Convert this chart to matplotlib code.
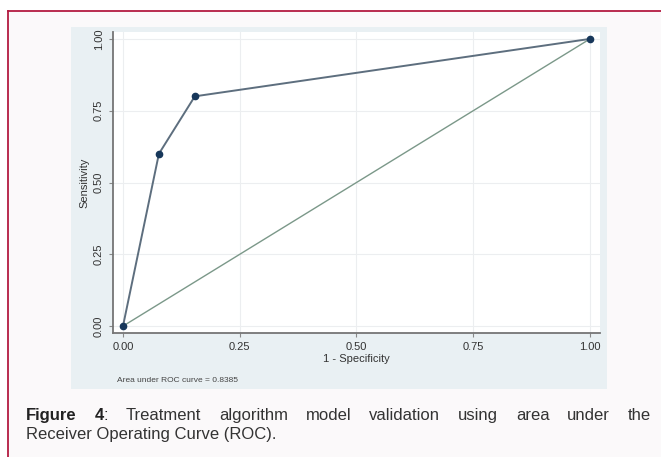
import numpy as np
import matplotlib
matplotlib.use("Agg")
import matplotlib.pyplot as plt
from matplotlib.patches import Rectangle
from matplotlib.lines import Line2D

plt.rcParams["font.family"] = ["Liberation Sans", "DejaVu Sans"]

# ROC points
fpr = [0.0, 0.0769, 0.1538, 1.0]
tpr = [0.0, 0.60, 0.80, 1.0]
ticks = [0.0, 0.25, 0.5, 0.75, 1.0]
tick_labels = ["0.00", "0.25", "0.50", "0.75", "1.00"]
auc_text = "Area under ROC curve = 0.8385"
caption_words = ["Treatment", "algorithm", "model", "validation", "using", "area", "under", "the"]
caption_line2 = "Receiver Operating Curve (ROC)."

W, H = 661, 457
fig = plt.figure(figsize=(W / 100, H / 100), dpi=100)
fig.patch.set_facecolor("white")

def px(x, y):
    return x / W, 1 - y / H

# outer frame (crimson, cut off on right and bottom)
fig.patches.append(Rectangle(px(8, H), (W - 8) / W, (H - 11) / H, transform=fig.transFigure,
                             facecolor="#fbf9fa", edgecolor="none", zorder=-10))
fig.lines.append(Line2D([8 / W, 8 / W], [0, 1 - 11 / H], transform=fig.transFigure,
                        color="#b31b41", lw=1.3, zorder=-9))
fig.lines.append(Line2D([8 / W, 1], [1 - 11 / H, 1 - 11 / H], transform=fig.transFigure,
                        color="#b31b41", lw=1.3, zorder=-9))

# graph region background
fig.patches.append(Rectangle(px(71, 389), 536 / W, 362 / H, transform=fig.transFigure,
                             facecolor="#e9f0f3", edgecolor="none", zorder=-8))

ax = fig.add_axes([113 / W, 1 - 333 / H, 487 / W, 301 / H])
ax.set_facecolor("white")
ax.plot([0, 1], [0, 1], color="#7b9889", lw=1.0, zorder=2)
ax.plot(fpr, tpr, color="#5d6e7e", lw=1.4, marker="o", ms=4.5,
        mfc="#17375a", mec="#17375a", zorder=3)

ax.set_xlim(-0.0214, 1.0214)
ax.set_ylim(-0.024, 1.024)
ax.set_xticks(ticks)
ax.set_xticklabels(tick_labels)
ax.set_yticks(ticks)
ax.set_yticklabels(tick_labels, rotation=90, va="center")
ax.grid(True, color="#eceef0", lw=0.8)
ax.set_axisbelow(True)
for s in ["top", "right"]:
    ax.spines[s].set_visible(False)
for s in ["left", "bottom"]:
    ax.spines[s].set_color("#757575")
    ax.spines[s].set_linewidth(1.3)
ax.tick_params(axis="both", length=3, width=0.8, color="#888888", labelsize=8,
               labelcolor="#333333", pad=3.5)
ax.set_xlabel("1 - Specificity", fontsize=8, color="#333333", labelpad=1.5)
ax.set_ylabel("Sensitivity", fontsize=8, color="#333333", labelpad=3)

fig.text(*px(117, 380), auc_text, fontsize=6, color="#444444", va="center", ha="left")

# caption, first line justified (baseline aligned)
left, right, y1, y2 = 26, 651, 420, 439
cap_fs = 12
renderer = fig.canvas.get_renderer()
pieces = [fig.text(0, 0, "Figure", fontsize=cap_fs, weight="bold", color="#222222")]
four = fig.text(0, 0, "4", fontsize=cap_fs, weight="bold", color="#222222")
colon = fig.text(0, 0, ":", fontsize=cap_fs, color="#222222")
pieces.append((four, colon))
for w in caption_words:
    pieces.append(fig.text(0, 0, w, fontsize=cap_fs, color="#333333"))

def width(t):
    return t.get_window_extent(renderer).width

widths = []
for p in pieces:
    if isinstance(p, tuple):
        widths.append(width(p[0]) + width(p[1]))
    else:
        widths.append(width(p))
gap = (right - left - sum(widths)) / (len(pieces) - 1)
x = left
for p, wd in zip(pieces, widths):
    if isinstance(p, tuple):
        p[0].set_position(px(x, y1))
        p[0].set_va("baseline")
        p[1].set_position(px(x + width(p[0]), y1))
        p[1].set_va("baseline")
    else:
        p.set_position(px(x, y1))
        p.set_va("baseline")
    x += wd + gap

fig.text(*px(left, y2), caption_line2, fontsize=cap_fs, color="#333333", va="baseline", ha="left")

fig.savefig("out.png", dpi=100)
